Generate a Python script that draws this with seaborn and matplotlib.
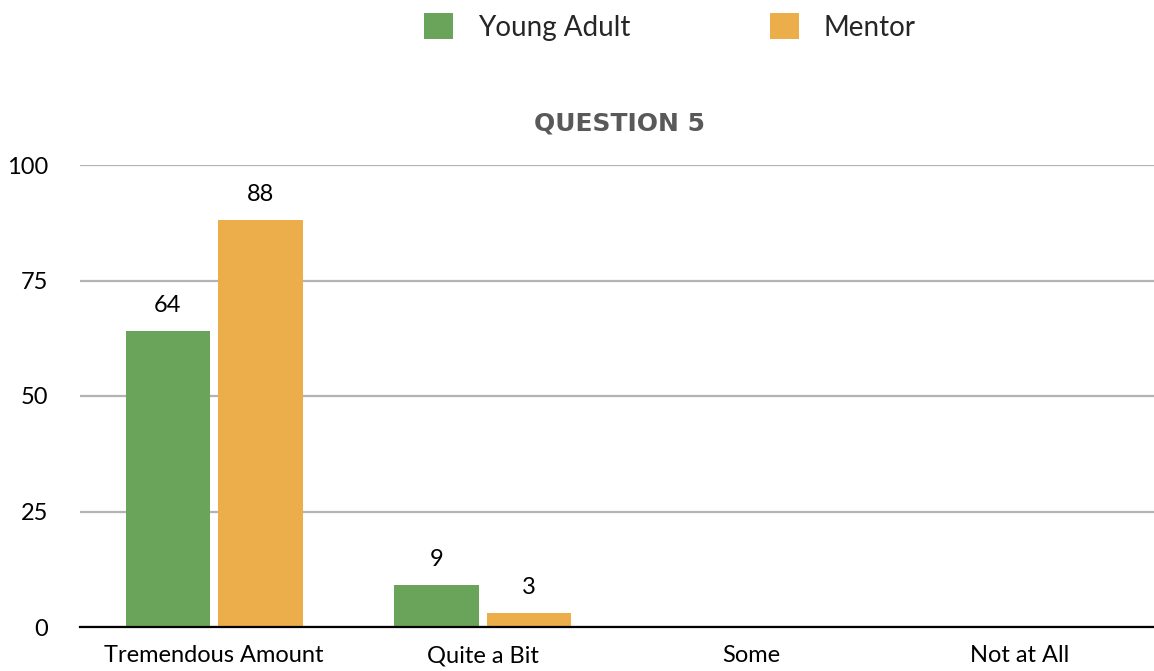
import matplotlib
matplotlib.use("Agg")
import matplotlib.pyplot as plt
import seaborn as sns
import pandas as pd
from matplotlib.patches import Patch

categories = ["Tremendous Amount", "Quite a Bit", "Some", "Not at All"]
series_names = ["Young Adult", "Mentor"]
young_adult = [64, 9, 0, 0]
mentor = [88, 3, 0, 0]
yticks = [0, 25, 50, 75, 100]
colors = ["#6aa45a", "#ecae4b"]

df = pd.DataFrame({
    "category": categories * 2,
    "series": [series_names[0]] * 4 + [series_names[1]] * 4,
    "value": young_adult + mentor,
})

sns.set_theme(style="white")
plt.rcParams['font.family'] = ['Lato', 'DejaVu Sans']

fig = plt.figure(figsize=(11.54, 6.71), dpi=100)
ax = fig.add_axes([80/1154, 44/671, 1074/1154, 462/671])

sns.barplot(data=df, x="category", y="value", hue="series", order=categories,
            hue_order=series_names, palette=colors, width=0.69, gap=0.09,
            ax=ax, legend=False, saturation=1, linewidth=0)

ax.set_ylim(0, 100)
ax.set_xlim(-0.5, 3.5)
ax.set_yticks(yticks)
ax.set_yticklabels([str(t) for t in yticks])
ax.yaxis.grid(True, color="#b3b3b3", linewidth=1.6)
ax.set_axisbelow(True)
for s in ["top", "right", "left"]:
    ax.spines[s].set_visible(False)
ax.spines["bottom"].set_color("black")
ax.spines["bottom"].set_linewidth(1.6)
ax.spines["bottom"].set_zorder(5)
ax.tick_params(axis="y", length=0, pad=23, labelsize=17, labelcolor="black")
ax.tick_params(axis="x", length=0, pad=13, labelsize=17, labelcolor="black")
for lbl in ax.get_yticklabels():
    lbl.set_horizontalalignment("right")
ax.set_xlabel("")
ax.set_ylabel("")

for container in ax.containers:
    labels = [f"{int(v)}" if v > 0 else "" for v in container.datavalues]
    ax.bar_label(container, labels=labels, padding=11, fontsize=17, color="black")

fig.text(619/1154, 1 - 123/671, "QUESTION 5", ha="center", va="center",
         fontsize=18, fontweight="bold", color="#595959", family="DejaVu Sans")

handles = [Patch(facecolor=c, edgecolor="none") for c in colors]
fig.legend(handles, series_names, loc="center", bbox_to_anchor=(670/1154, 1 - 27/671),
           ncol=2, frameon=False, fontsize=20, handlelength=1.05, handleheight=1.05,
           handletextpad=0.9, columnspacing=5.0)

fig.savefig("out.png", dpi=100)
